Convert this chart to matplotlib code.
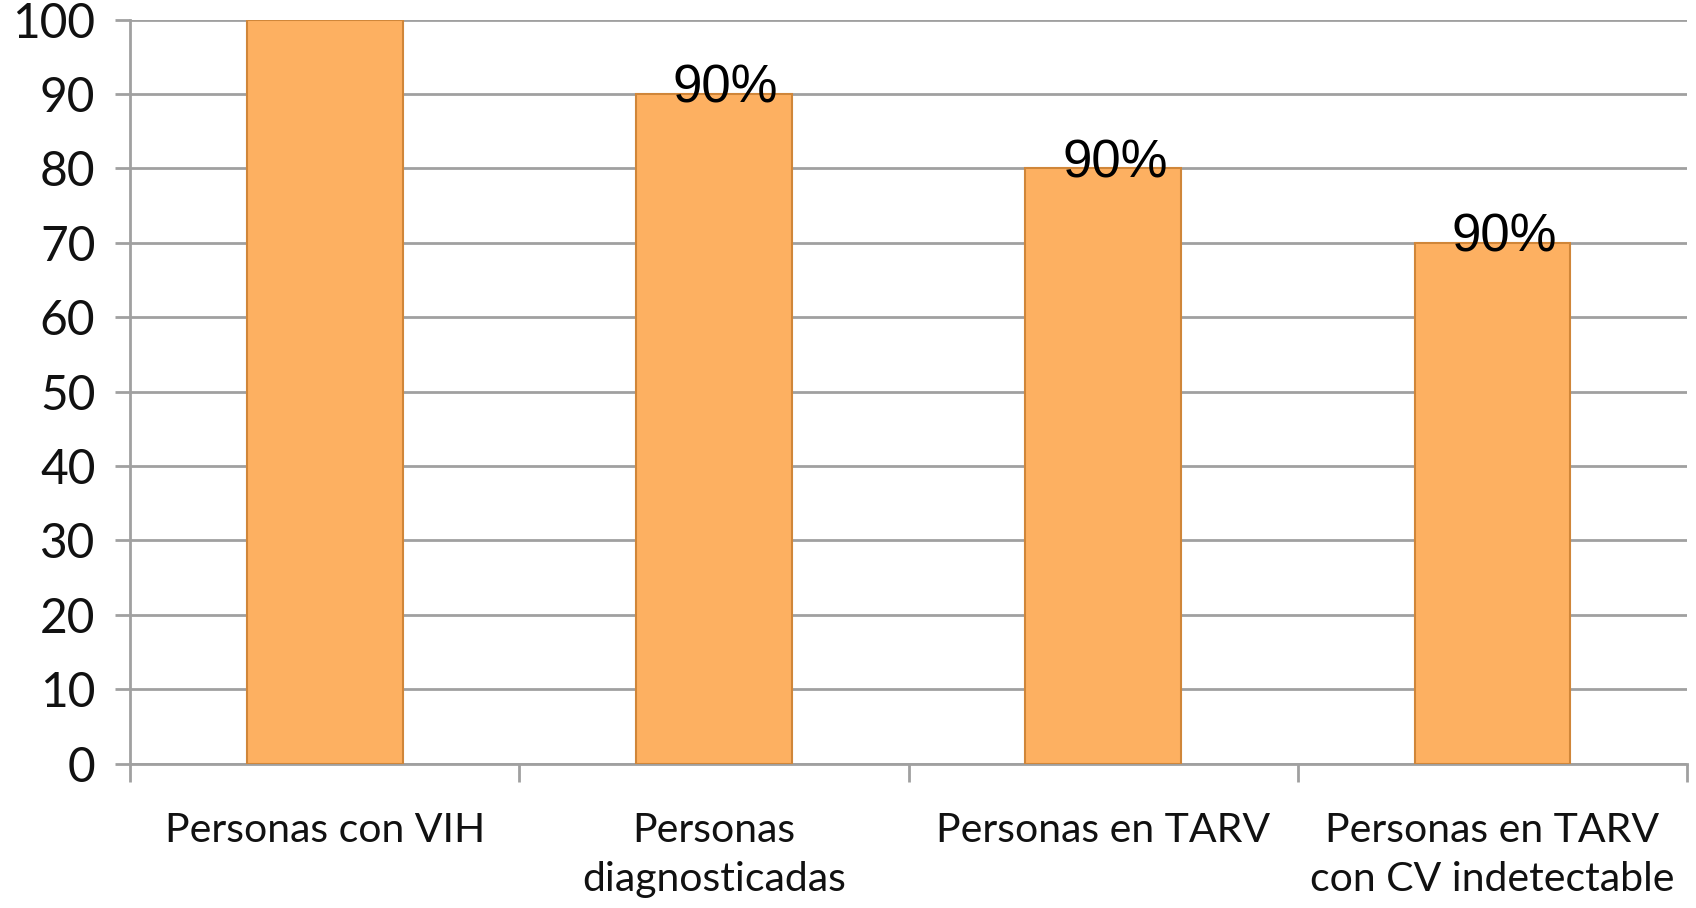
import matplotlib.pyplot as plt
import numpy as np

categorias = ["Personas con VIH", "Personas\ndiagnosticadas",
              "Personas en TARV", "Personas en TARV\ncon CV indetectable"]
valores = [100, 90, 80, 70]
etiquetas = ["", "90%", "90%", "90%"]

plt.rcParams['font.family'] = ['Lato', 'DejaVu Sans']

fig = plt.figure(figsize=(16.96, 9.08), dpi=100)
ax = fig.add_axes([0.0767, 0.159, 0.918, 0.8195])

x = np.arange(len(categorias))
bars = ax.bar(x, valores, width=0.4, color='#FDB061', edgecolor='#D08639',
              linewidth=1.5, zorder=3)

# etiquetas de datos
for xi, v, t in zip(x, valores, etiquetas):
    if t:
        ax.text(xi + 0.03, v - 1.2, t, ha='center', va='baseline',
                fontsize=38, family='Liberation Sans', color='black', zorder=4)

ax.set_xlim(-0.5, len(categorias) - 0.5)
ax.set_ylim(0, 100)
ax.set_yticks(range(0, 101, 10))
ax.yaxis.grid(True, color='#A0A0A0', linewidth=2, zorder=0)

ax.set_xticks(np.arange(-0.5, len(categorias), 1))
ax.set_xticklabels([])
ax.set_xticks(x, minor=True)
ax.set_xticklabels(categorias, minor=True, fontsize=29.5, linespacing=1.38,
                   color='#111111')
ax.tick_params(axis='x', which='major', length=13, width=2, color='#A0A0A0')
ax.tick_params(axis='x', which='minor', length=0, pad=35)
ax.tick_params(axis='y', length=11, width=2, color='#A0A0A0', labelsize=34.5,
               pad=14, labelcolor='#111111')

for s in ['top', 'right']:
    ax.spines[s].set_visible(False)
for s in ['left', 'bottom']:
    ax.spines[s].set_color('#A0A0A0')
    ax.spines[s].set_linewidth(2)

fig.savefig('out.png', dpi=100)
